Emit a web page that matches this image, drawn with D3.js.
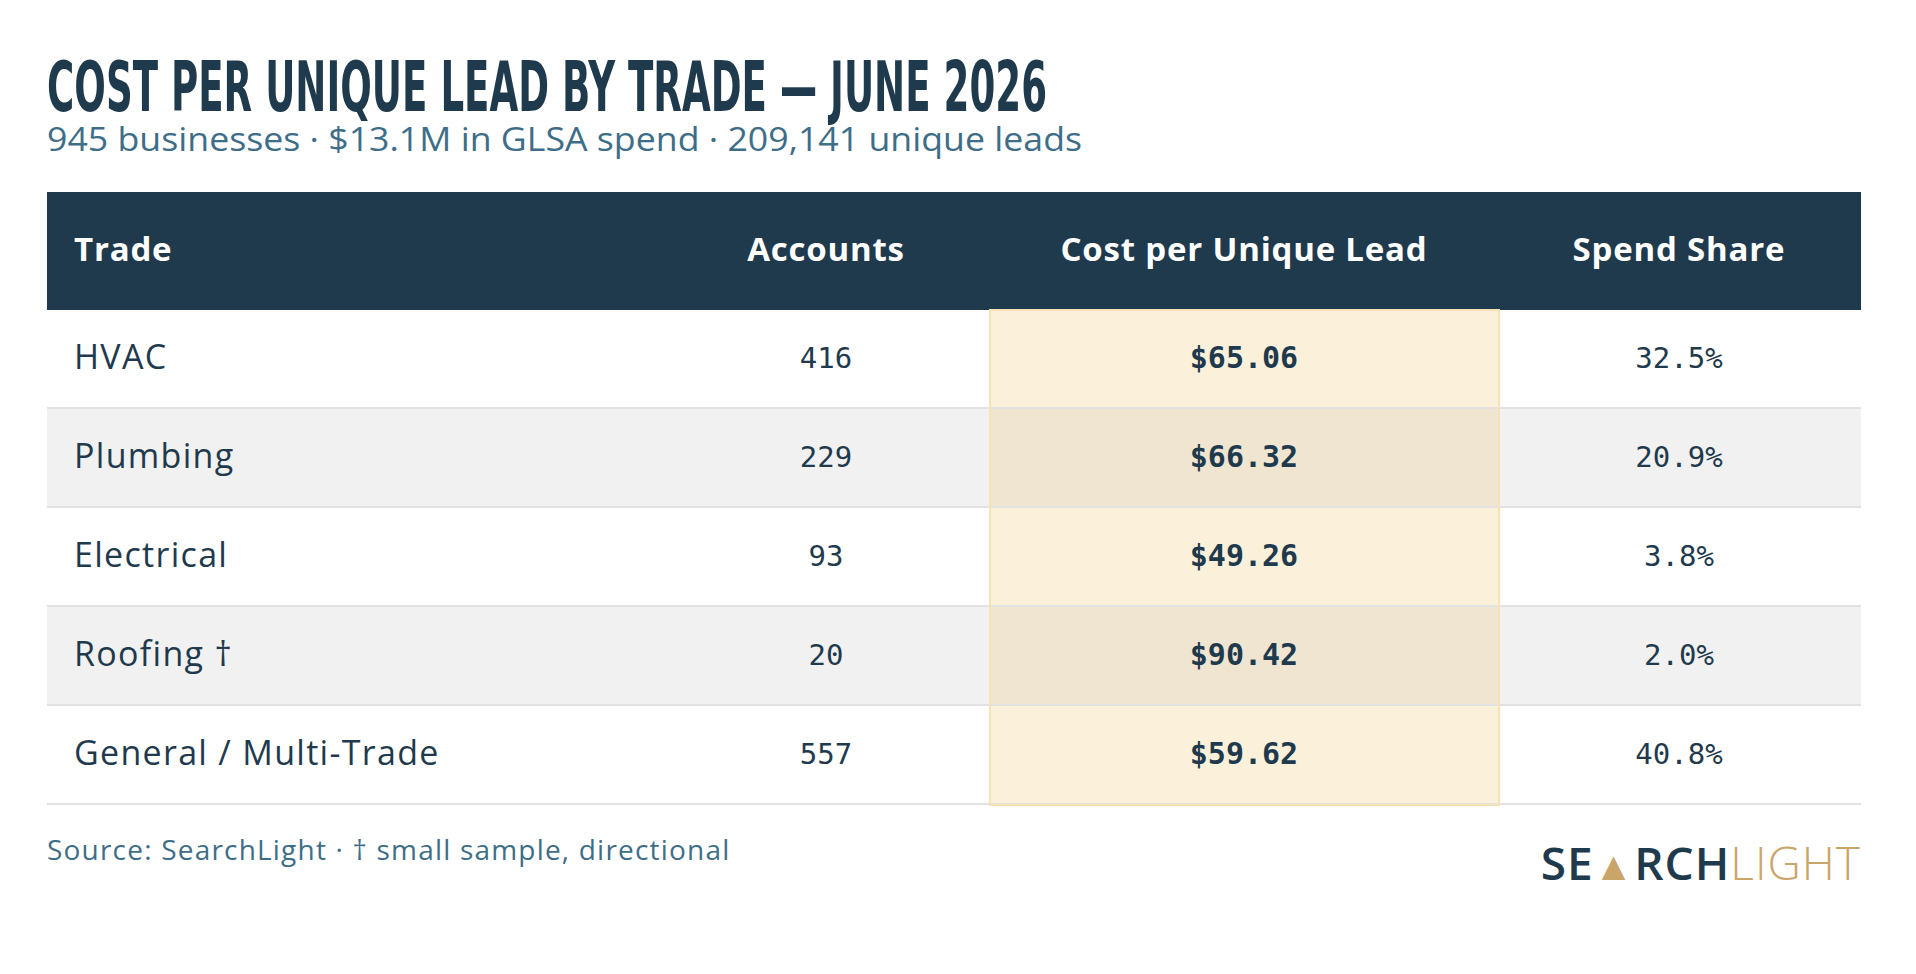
<!DOCTYPE html>
<html><head><meta charset="utf-8">
<script src="https://cdn.jsdelivr.net/npm/d3@7"></script>
<style>body{margin:0;background:#fff}svg{display:block}</style>
</head><body>
<script>
const trades = ["HVAC", "Plumbing", "Electrical", "Roofing \u2020", "General / Multi-Trade"];
const accounts = [416, 229, 93, 20, 557];
const costPerLead = [65.06, 66.32, 49.26, 90.42, 59.62];
const spendShare = [32.5, 20.9, 3.8, 2.0, 40.8];
const headers = ["Trade", "Accounts", "Cost per Unique Lead", "Spend Share"];

const W = 1916, H = 974, navy = "#1f3a4d";
const sans = "'Open Sans',sans-serif";
const svg = d3.select("body").append("svg").attr("width", W).attr("height", H);

svg.append("text").attr("x", 47).attr("y", 111)
  .attr("font-family", "'Liberation Sans Narrow','DejaVu Sans Condensed',sans-serif")
  .attr("font-weight", 700).attr("font-size", 70).attr("fill", navy)
  .attr("textLength", 1000).attr("lengthAdjust", "spacingAndGlyphs")
  .text("COST PER UNIQUE LEAD BY TRADE \u2014 JUNE 2026");
svg.append("text").attr("x", 47).attr("y", 151)
  .attr("font-family", sans).attr("font-size", 32).attr("fill", "#3e6e87")
  .attr("textLength", 1035).attr("lengthAdjust", "spacingAndGlyphs")
  .text("945 businesses \u00b7 $13.1M in GLSA spend \u00b7 209,141 unique leads");

const x0 = 47, x1 = 1861, hlX0 = 990, hlX1 = 1499;
const colX = [74, 826, 1244, 1679];
const y = d3.scaleBand().domain(d3.range(trades.length)).range([310, 805]);

svg.append("rect").attr("x", x0).attr("y", 192).attr("width", x1 - x0).attr("height", 118).attr("fill", navy);
svg.selectAll(".hd").data(headers).join("text")
  .attr("x", (d, i) => colX[i]).attr("y", 249).attr("dy", "0.35em")
  .attr("text-anchor", (d, i) => i ? "middle" : "start")
  .attr("font-family", sans).attr("font-weight", 700).attr("font-size", 33).attr("letter-spacing", 0.8)
  .attr("fill", "#fff").text(d => d);

const rows = svg.selectAll(".row").data(trades).join("g")
  .attr("transform", (d, i) => `translate(0,${y(i)})`);
rows.append("rect").attr("x", x0).attr("width", x1 - x0).attr("height", y.bandwidth())
  .attr("fill", (d, i) => i % 2 ? "#f1f1f1" : "#fff");
rows.append("rect").attr("x", hlX0).attr("width", hlX1 - hlX0).attr("height", y.bandwidth())
  .attr("fill", (d, i) => i % 2 ? "#f0e5d0" : "#fbf1da");
rows.append("line").attr("x1", x0).attr("x2", x1).attr("y1", y.bandwidth() - 1).attr("y2", y.bandwidth() - 1)
  .attr("stroke", "#e2e2e2").attr("stroke-width", 2);
const cy = y.bandwidth() / 2 - 2;
rows.append("text").attr("x", colX[0]).attr("y", cy).attr("dy", "0.35em")
  .attr("font-family", sans).attr("font-size", 34).attr("letter-spacing", 1.3).attr("fill", navy).text(d => d);
const mono = "'DejaVu Sans Mono','Liberation Mono',monospace";
rows.append("text").attr("x", colX[1]).attr("y", cy).attr("dy", "0.35em").attr("text-anchor", "middle")
  .attr("font-family", mono).attr("font-size", 29).attr("fill", navy).text((d, i) => accounts[i]);
rows.append("text").attr("x", colX[2]).attr("y", cy).attr("dy", "0.35em").attr("text-anchor", "middle")
  .attr("font-family", mono).attr("font-weight", 700).attr("font-size", 30).attr("fill", navy)
  .text((d, i) => "$" + d3.format(".2f")(costPerLead[i]));
rows.append("text").attr("x", colX[3]).attr("y", cy).attr("dy", "0.35em").attr("text-anchor", "middle")
  .attr("font-family", mono).attr("font-size", 29).attr("fill", navy)
  .text((d, i) => d3.format(".1f")(spendShare[i]) + "%");
svg.append("rect").attr("x", hlX0).attr("y", 310).attr("width", hlX1 - hlX0).attr("height", 495)
  .attr("fill", "none").attr("stroke", "#f5e3b5").attr("stroke-width", 2);

svg.append("text").attr("x", 47).attr("y", 860)
  .attr("font-family", sans).attr("font-size", 28).attr("letter-spacing", 1.2).attr("fill", "#3e6e87")
  .text("Source: SearchLight \u00b7 \u2020 small sample, directional");

const logo = svg.append("text").attr("x", 1861).attr("y", 880).attr("text-anchor", "end")
  .attr("font-family", sans).attr("font-size", 46).attr("letter-spacing", 1);
logo.append("tspan").attr("fill", navy).attr("font-weight", 600).text("SE");
logo.append("tspan").attr("fill", "#c9a56a").attr("font-weight", 700).attr("font-size", 40).text("\u25b2");
logo.append("tspan").attr("fill", navy).attr("font-weight", 600).text("RCH");
logo.append("tspan").attr("fill", "#c9a56a").attr("font-weight", 300).text("LIGHT");
</script>
</body></html>
